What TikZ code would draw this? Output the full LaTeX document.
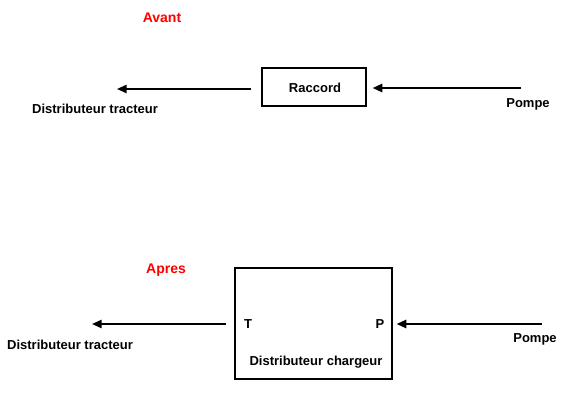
\documentclass[tikz,border=0pt]{standalone}
\usepackage{fontspec}
\setmainfont{Liberation Sans}
\usetikzlibrary{arrows.meta,positioning}

\begin{document}
\begin{tikzpicture}[
  x=1pt,y=-1pt,
  box/.style={draw=black,line width=1.2pt,fill=white,rectangle,inner sep=0pt},
  lbl/.style={font=\fontsize{13}{15}\selectfont\bfseries,inner sep=0pt},
  title/.style={font=\fontsize{14}{16}\selectfont\bfseries,text=red,inner sep=0pt},
  arrow/.style={-{Triangle[length=3.4mm,width=2.9mm]},draw=black,line width=1.8pt}
]
  \useasboundingbox (0,0) rectangle (580,400);
  % avant
  \node[title] (avant) at (162,18) {Avant};
  \node[box,minimum width=104pt,minimum height=38pt] (raccord) at (314,87) {};
  \node[lbl] (raccordtxt) at (315,88) {Raccord};
  \coordinate (tracteurA) at (117,89);
  \coordinate (pompeA) at (521,88);
  \node[lbl] (lbltracteurA) at (95,109) {Distributeur tracteur};
  \node[lbl] (lblpompeA) at (528,104) {Pompe};
  \draw[arrow,shorten <=10pt] (raccord.west |- tracteurA) -- (tracteurA);
  \draw[arrow,shorten >=6pt] (pompeA) -- (pompeA -| raccord.east);
  % apres
  \node[title] (apres) at (166,270) {Apres};
  \node[box,minimum width=157pt,minimum height=111pt] (chargeur) at (313.5,323.5) {};
  \node[lbl] (T) at (248,324) {T};
  \node[lbl] (P) at (380,324) {P};
  \node[lbl] (lblchargeur) at (316,362) {Distributeur chargeur};
  \coordinate (tracteurB) at (92,324);
  \coordinate (pompeB) at (542,324);
  \node[lbl] (lbltracteurB) at (70,345) {Distributeur tracteur};
  \node[lbl] (lblpompeB) at (535,339) {Pompe};
  \draw[arrow,shorten <=8pt] (chargeur.west |- tracteurB) -- (tracteurB);
  \draw[arrow,shorten >=4pt] (pompeB) -- (pompeB -| chargeur.east);
\end{tikzpicture}
\end{document}
